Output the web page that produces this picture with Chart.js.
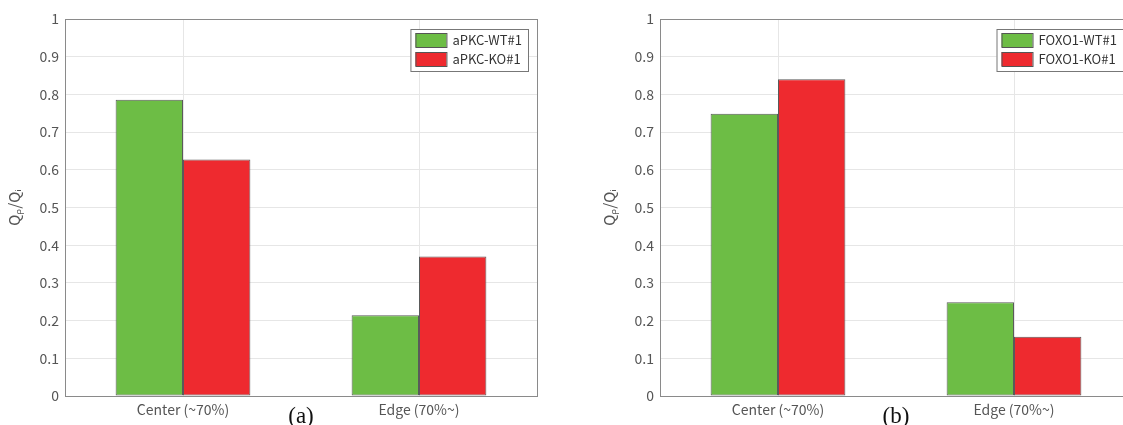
<!DOCTYPE html>
<html>
<head>
<meta charset="utf-8">
<script src="https://cdn.jsdelivr.net/npm/chart.js@4/dist/chart.umd.min.js"></script>
<style>
  html, body { margin: 0; padding: 0; background: #fff; overflow: hidden; }
  body { width: 1123px; height: 425px; position: relative; }
  canvas { position: absolute; top: 0; }
</style>
</head>
<body>
<canvas id="chartA" width="560" height="425" style="left:0px"></canvas>
<canvas id="chartB" width="560" height="425" style="left:595px"></canvas>
<script>
const categories = ['Center (~70%)', 'Edge (70%~)'];

const apkcLabels = ['aPKC-WT#1', 'aPKC-KO#1'];
const apkcWT = [0.786, 0.214];
const apkcKO = [0.627, 0.370];

const foxoLabels = ['FOXO1-WT#1', 'FOXO1-KO#1'];
const foxoWT = [0.749, 0.249];
const foxoKO = [0.840, 0.157];

const green = '#6dbd45';
const red = '#ee2a2f';
const font = '"Noto Sans CJK JP", "Noto Sans", sans-serif';

// frame, inside legend and panel letter
const extras = {
    id: 'extras',
    afterDraw(chart, args, opts) {
        const ctx = chart.ctx;
        const a = chart.chartArea;
        ctx.save();
        ctx.strokeStyle = '#8a8a8a';
        ctx.lineWidth = 1;
        ctx.strokeRect(a.left + 0.5, a.top + 0.5, a.right - a.left, a.bottom - a.top);

        ctx.font = '13px ' + font;
        const sets = chart.data.datasets;
        let tw = 0;
        sets.forEach(d => { tw = Math.max(tw, ctx.measureText(d.label).width); });
        const w = 42 + tw + 6, h = 42;
        const x = a.right - 9 - w, y = a.top + 10;
        ctx.fillStyle = '#fff';
        ctx.fillRect(x, y, w, h);
        ctx.strokeStyle = '#777';
        ctx.strokeRect(x + 0.5, y + 0.5, w, h);
        sets.forEach((d, i) => {
            const sy = y + 4 + i * 19;
            ctx.fillStyle = d.backgroundColor;
            ctx.fillRect(x + 5, sy, 31, 14);
            ctx.strokeStyle = '#555';
            ctx.strokeRect(x + 5.5, sy + 0.5, 31, 14);
            ctx.fillStyle = '#333';
            ctx.textBaseline = 'middle';
            ctx.textAlign = 'left';
            ctx.fillText(d.label, x + 42, sy + 7);
        });

        ctx.font = '23px "Liberation Serif", "Times New Roman", serif';
        ctx.fillStyle = '#111';
        ctx.textAlign = 'center';
        ctx.textBaseline = 'top';
        ctx.fillText(opts.letter, (a.left + a.right) / 2, 405);
        ctx.restore();
    }
};

function makeChart(id, labels, wt, ko, letter) {
    return new Chart(document.getElementById(id), {
        type: 'bar',
        data: {
            labels: categories,
            datasets: [
                { label: labels[0], data: wt, backgroundColor: green },
                { label: labels[1], data: ko, backgroundColor: red }
            ]
        },
        options: {
            responsive: false,
            animation: false,
            layout: { padding: { top: 19, right: 23, left: 0, bottom: 0 } },
            datasets: {
                bar: {
                    categoryPercentage: 0.571,
                    barPercentage: 1.0,
                    borderColor: '#5a5a5a',
                    borderWidth: 1,
                    borderSkipped: false
                }
            },
            plugins: {
                legend: { display: false },
                tooltip: { enabled: false },
                extras: { letter: letter }
            },
            scales: {
                x: {
                    grid: { offset: false, color: '#e6e6e6', drawTicks: false },
                    border: { display: false },
                    ticks: { color: '#555', font: { family: font, size: 14 }, padding: 5 },
                    afterFit(s) { s.height = 29; }
                },
                y: {
                    min: 0,
                    max: 1,
                    grid: { color: '#e6e6e6', drawTicks: false },
                    border: { display: false },
                    ticks: {
                        stepSize: 0.1,
                        color: '#555',
                        font: { family: font, size: 14 },
                        padding: 6,
                        callback: v => String(+v.toFixed(1))
                    },
                    title: {
                        display: true,
                        text: 'Qᵨ/Qᵢ',
                        color: '#555',
                        font: { family: font, size: 15 },
                        padding: { top: 5, bottom: 0 }
                    },
                    afterFit(s) { s.width = 65; }
                }
            }
        },
        plugins: [extras]
    });
}

makeChart('chartA', apkcLabels, apkcWT, apkcKO, '(a)');
makeChart('chartB', foxoLabels, foxoWT, foxoKO, '(b)');
</script>
</body>
</html>
